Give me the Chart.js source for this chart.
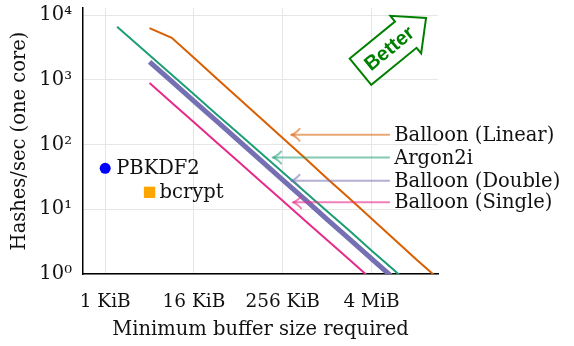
<!DOCTYPE html>
<html><head><meta charset="utf-8">
<script src="https://cdn.jsdelivr.net/npm/chart.js@4.4.1/dist/chart.umd.min.js"></script>
<style>html,body{margin:0;padding:0;background:#fff;}canvas{display:block}</style>
</head><body>
<canvas id="c" width="574" height="346"></canvas>
<script>
// ---- data (x: minimum buffer size in KiB, y: hashes/sec on one core) ----
const argonSizes   = [1.45, 2, 4, 8, 16, 32, 64, 128, 256, 512, 1024, 2048, 4096, 8192, 16384];
const argonRates   = [6600, 4790, 2400, 1200, 600, 298, 149, 74.6, 37.3, 18.7, 9.3, 4.7, 2.3, 1.16, 0.58];
const balloonSizes = [4, 8, 16, 32, 64, 128, 256, 512, 1024, 2048, 4096, 8192, 16384, 32768];
const linearRates  = [6300, 4470, 2190, 1070, 525, 257, 126, 62, 30, 14.8, 7.2, 3.5, 1.7, 0.85];
const doubleRates  = [1905, 946, 470, 234, 116, 57.5, 28.6, 14.2, 7.0, 3.5, 1.73, 0.86];
const singleRates  = [891, 444, 221, 110, 54.6, 27.2, 13.5, 6.7, 3.36, 1.67, 0.83];
const pbkdf2Point  = [1, 43];
const bcryptPoint  = [4, 18.3];

const xTickValues = [1, 16, 256, 4096];
const xTickLabels = ['1 KiB', '16 KiB', '256 KiB', '4 MiB'];
const yTickValues = [1, 10, 100, 1000, 10000];
const yTickLabels = ['10\u2070', '10\u00B9', '10\u00B2', '10\u00B3', '10\u2074'];

const calloutNames  = ['Balloon (Linear)', 'Argon2i', 'Balloon (Double)', 'Balloon (Single)'];
const calloutLevels = [141.5, 63.2, 27.6, 12.8];     // y value of each callout arrow
const calloutTips   = [333, 187, 333, 350];           // KiB where the arrow points
const calloutTail   = 7130;                           // KiB where arrows start

const SERIF = '"DejaVu Serif", serif';
const C_ORANGE = '#d95f02', C_TEAL = '#1b9e77', C_PURPLE = '#7570b3', C_PINK = '#e7298a';
const calloutColors = ['rgba(217,95,2,0.55)', 'rgba(27,158,119,0.55)', 'rgba(117,112,179,0.55)', 'rgba(231,41,138,0.6)'];

const pts = (xs, ys) => ys.map((v, i) => ({x: xs[i], y: v}));

const annot = {
  id: 'annot',
  afterDatasetsDraw(chart) {
    const {ctx, chartArea, scales: {x, y}} = chart;
    ctx.save();
    // callouts
    ctx.lineWidth = 2;
    ctx.lineCap = 'round';
    ctx.lineJoin = 'round';
    ctx.font = '19.5px ' + SERIF;
    ctx.textBaseline = 'middle';
    ctx.textAlign = 'left';
    calloutNames.forEach((name, i) => {
      const py = y.getPixelForValue(calloutLevels[i]);
      const tx = x.getPixelForValue(calloutTips[i]);
      const sx = x.getPixelForValue(calloutTail);
      ctx.strokeStyle = calloutColors[i];
      ctx.beginPath(); ctx.moveTo(sx, py); ctx.lineTo(tx + 1, py); ctx.stroke();
      ctx.beginPath();
      ctx.moveTo(tx + 8.5, py - 6);
      ctx.quadraticCurveTo(tx + 4, py - 1, tx, py);
      ctx.quadraticCurveTo(tx + 4, py + 1, tx + 8.5, py + 6);
      ctx.stroke();
      ctx.fillStyle = '#111';
      ctx.fillText(name, sx + 5, py + 1);
    });
    // point labels
    ctx.font = '19.5px ' + SERIF;
    ctx.fillStyle = '#111';
    ctx.fillText('PBKDF2', x.getPixelForValue(pbkdf2Point[0]) + 11, y.getPixelForValue(pbkdf2Point[1]) + 1);
    ctx.fillText('bcrypt', x.getPixelForValue(bcryptPoint[0]) + 10, y.getPixelForValue(bcryptPoint[1]) + 1);
    // "Better" arrow
    ctx.translate(chartArea.right - 77.5, chartArea.top + 63.7);
    ctx.rotate(-39.3 * Math.PI / 180);
    ctx.beginPath();
    ctx.moveTo(0, -17); ctx.lineTo(58.5, -17); ctx.lineTo(58.5, -24.3); ctx.lineTo(84.7, 0);
    ctx.lineTo(58.5, 24.3); ctx.lineTo(58.5, 17); ctx.lineTo(0, 17); ctx.closePath();
    ctx.fillStyle = '#fff'; ctx.fill();
    ctx.strokeStyle = '#008000'; ctx.lineWidth = 2; ctx.lineJoin = 'miter'; ctx.lineCap = 'butt'; ctx.stroke();
    ctx.fillStyle = '#008000';
    ctx.font = 'bold 20px "Liberation Sans", Arial, sans-serif';
    ctx.textAlign = 'center'; ctx.textBaseline = 'middle';
    ctx.fillText('Better', 37, 1);
    ctx.restore();
  }
};

new Chart(document.getElementById('c'), {
  type: 'line',
  data: {
    datasets: [
      {label: 'Balloon (Linear)', data: pts(balloonSizes, linearRates), borderColor: C_ORANGE, borderWidth: 2, pointRadius: 0, clip: 0},
      {label: 'Balloon (Double)', data: pts(balloonSizes, doubleRates), borderColor: C_PURPLE, borderWidth: 5, pointRadius: 0, clip: 0},
      {label: 'Argon2i', data: pts(argonSizes, argonRates), borderColor: C_TEAL, borderWidth: 2, pointRadius: 0, clip: 0},
      {label: 'Balloon (Single)', data: pts(balloonSizes, singleRates), borderColor: C_PINK, borderWidth: 2, pointRadius: 0, clip: 0},
      {type: 'scatter', label: 'PBKDF2', data: [{x: pbkdf2Point[0], y: pbkdf2Point[1]}], showLine: false,
       pointStyle: 'circle', pointRadius: 5.5, backgroundColor: '#0000ff', borderColor: '#0000ff', borderWidth: 0},
      {type: 'scatter', label: 'bcrypt', data: [{x: bcryptPoint[0], y: bcryptPoint[1]}], showLine: false,
       pointStyle: 'rect', pointRadius: 8, backgroundColor: '#ffa500', borderColor: '#ffa500', borderWidth: 0}
    ]
  },
  options: {
    responsive: false,
    animation: false,
    devicePixelRatio: 1,
    layout: {padding: {top: 4, right: 136, left: 0, bottom: 0}},
    plugins: {legend: {display: false}, tooltip: {enabled: false}},
    scales: {
      x: {
        type: 'logarithmic', min: 0.5, max: 32768,
        afterBuildTicks: s => { s.ticks = xTickValues.map(v => ({value: v})); },
        afterFit: s => { s.height = 72; s.paddingLeft = 0; s.paddingRight = 0; },
        ticks: {callback: (v, i) => xTickLabels[i], font: {family: SERIF, size: 18.5}, color: '#111', padding: 17, maxRotation: 0, autoSkip: false},
        grid: {color: '#e6e6e6', lineWidth: 1, drawTicks: false},
        border: {color: '#000', width: 1.5},
        title: {display: true, text: 'Minimum buffer size required', font: {family: SERIF, size: 19.5}, color: '#111', padding: {top: 0, bottom: 4}}
      },
      y: {
        type: 'logarithmic', min: 1, max: 12900,
        afterBuildTicks: s => { s.ticks = yTickValues.map(v => ({value: v})); },
        afterFit: s => { s.width = 83; s.paddingTop = 0; s.paddingBottom = 0; },
        ticks: {callback: (v, i) => yTickLabels[i], font: {family: SERIF, size: 19.5}, color: '#111', padding: 11, autoSkip: false},
        grid: {color: '#e6e6e6', lineWidth: 1, drawTicks: false},
        border: {color: '#000', width: 1.5},
        title: {display: true, text: 'Hashes/sec (one core)', font: {family: SERIF, size: 19.5}, color: '#111', padding: {top: 8, bottom: 0}}
      }
    }
  },
  plugins: [annot]
});
</script>
</body></html>
